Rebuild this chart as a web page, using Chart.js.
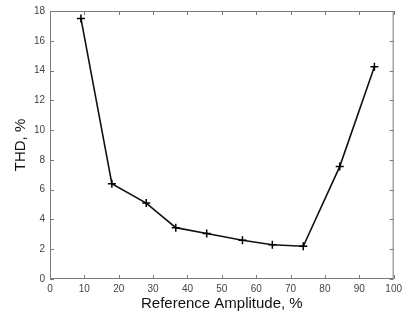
<!DOCTYPE html>
<html>
<head>
<meta charset="utf-8">
<script src="https://cdn.jsdelivr.net/npm/chart.js@4.4.0/dist/chart.umd.min.js"></script>
<style>
  html, body { margin: 0; padding: 0; background: #fff; }
  #wrap { width: 406px; height: 320px; }
</style>
</head>
<body>
<div id="wrap"><canvas id="thd"></canvas></div>
<script>
// --- Data ---
const amplitude = [9, 18, 28, 36.6, 45.6, 56, 64.7, 73.7, 84.3, 94.4];
const thd = [17.5, 6.4, 5.1, 3.45, 3.05, 2.6, 2.3, 2.2, 7.55, 14.25];
const xTicks = [0, 10, 20, 30, 40, 50, 60, 70, 80, 90, 100];
const yTicks = [0, 2, 4, 6, 8, 10, 12, 14, 16, 18];

const points = amplitude.map((x, i) => ({ x: x, y: thd[i] }));

// box + inward ticks, matlab style
const frame = {
    id: 'frame',
    afterDraw(chart) {
        const { ctx, chartArea: a, scales: { x, y } } = chart;
        ctx.save();
        ctx.strokeStyle = '#7a7a7a';
        ctx.lineWidth = 1;
        ctx.strokeRect(a.left + 0.5, a.top + 0.5, a.right - a.left - 1, a.bottom - a.top - 1);
        ctx.beginPath();
        const len = 4;
        x.ticks.forEach(t => {
            const px = Math.round(x.getPixelForValue(t.value)) + 0.5;
            ctx.moveTo(px, a.bottom); ctx.lineTo(px, a.bottom - len);
            ctx.moveTo(px, a.top); ctx.lineTo(px, a.top + len);
        });
        y.ticks.forEach(t => {
            const py = Math.round(y.getPixelForValue(t.value)) + 0.5;
            ctx.moveTo(a.left, py); ctx.lineTo(a.left + len, py);
            ctx.moveTo(a.right, py); ctx.lineTo(a.right - len, py);
        });
        ctx.stroke();
        ctx.restore();
    }
};

new Chart(document.getElementById('thd'), {
    type: 'line',
    data: {
        datasets: [{
            data: points,
            borderColor: '#111',
            borderWidth: 1.6,
            pointStyle: 'cross',
            pointRadius: 4,
            pointBorderWidth: 1.5,
            pointBorderColor: '#000',
            fill: false,
            tension: 0
        }]
    },
    options: {
        responsive: true,
        maintainAspectRatio: false,
        animation: false,
        layout: { padding: { left: 0, right: 10, top: 5, bottom: 0 } },
        plugins: { legend: { display: false }, tooltip: { enabled: false } },
        scales: {
            x: {
                type: 'linear', min: 0, max: 100,
                afterBuildTicks: s => { s.ticks = xTicks.map(v => ({ value: v })); },
                afterFit: s => { s.height = 41; },
                grid: { display: false, drawTicks: false },
                border: { display: false },
                ticks: { padding: 4, color: '#444', font: { family: 'Liberation Sans', size: 10 }, maxRotation: 0, autoSkip: false },
                title: { display: true, text: 'Reference Amplitude, %', color: '#111', font: { family: 'Liberation Sans', size: 15 }, padding: { top: 0, bottom: 7 } }
            },
            y: {
                type: 'linear', min: 0, max: 18,
                afterBuildTicks: s => { s.ticks = yTicks.map(v => ({ value: v })); },
                afterFit: s => { s.width = 50; },
                grid: { display: false, drawTicks: false },
                border: { display: false },
                ticks: { padding: 5, color: '#444', font: { family: 'Liberation Sans', size: 10 }, autoSkip: false },
                title: { display: true, text: 'THD, %', color: '#111', font: { family: 'Liberation Sans', size: 15 }, padding: { top: 12, bottom: 0 } }
            }
        }
    },
    plugins: [frame]
});
</script>
</body>
</html>
